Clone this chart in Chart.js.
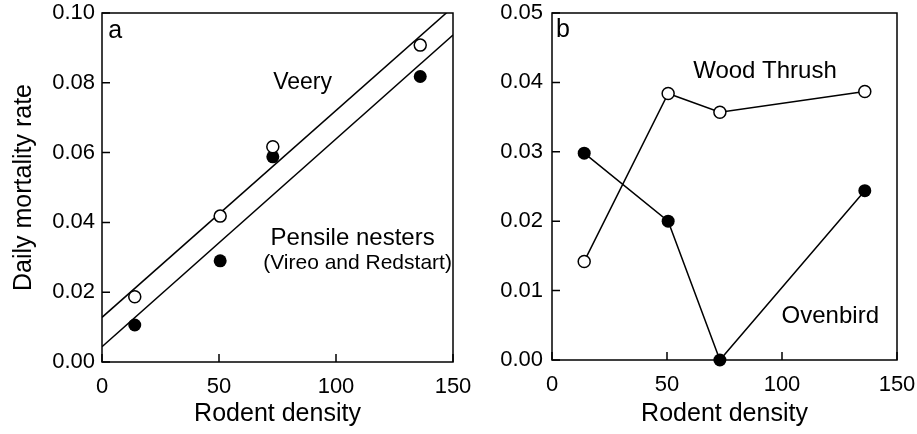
<!DOCTYPE html>
<html>
<head>
<meta charset="utf-8">
<script src="https://cdn.jsdelivr.net/npm/chart.js@4"></script>
<style>
  body { margin: 0; background: #fff; }
  #wrap { position: relative; width: 917px; height: 434px; overflow: hidden; }
  canvas { position: absolute; top: 0; }
  #chartA { left: 0; }
  #chartB { left: 460px; }
</style>
</head>
<body>
<div id="wrap">
  <canvas id="chartA" width="480" height="434"></canvas>
  <canvas id="chartB" width="457" height="434"></canvas>
</div>
<script>
// rodent density at each site
var density = [14, 50.5, 73, 136];

// panel a: Veery (open) and pensile nesters (filled)
var veery = [0.0187, 0.0418, 0.0617, 0.0908];
var pensile = [0.0106, 0.0290, 0.0588, 0.0818];
// fitted regression lines, end points
var veeryFitX = [0, 150];
var veeryFitY = [0.0128, 0.1017];
var pensileFitX = [0, 150];
var pensileFitY = [0.0044, 0.0937];

// panel b: Wood Thrush (open) and Ovenbird (filled)
var woodThrush = [0.0142, 0.0384, 0.0357, 0.0387];
var ovenbird = [0.0298, 0.0200, 0.0000, 0.0244];

var xTicks = [0, 50, 100, 150];

var FONT = "'Liberation Sans', Arial, Helvetica, sans-serif";

function pts(xs, ys) {
  return xs.map(function (x, i) { return { x: x, y: ys[i] }; });
}

// frame, inward tick marks and text labels
function framePlugin(notes) {
  return {
    id: "frame",
    afterDatasetsDraw: function (chart) {
      var c = chart.ctx, a = chart.chartArea;
      var xs = chart.scales.x, ys = chart.scales.y;
      c.save();
      c.strokeStyle = "#000";
      c.lineWidth = 1.5;
      c.strokeRect(a.left, a.top, a.right - a.left, a.bottom - a.top);
      c.beginPath();
      xs.ticks.forEach(function (t) {
        var px = xs.getPixelForValue(t.value);
        c.moveTo(px, a.bottom);
        c.lineTo(px, a.bottom - 8);
      });
      ys.ticks.forEach(function (t) {
        var py = ys.getPixelForValue(t.value);
        c.moveTo(a.left, py);
        c.lineTo(a.left + 8, py);
      });
      c.stroke();
      c.fillStyle = "#000";
      c.textAlign = "center";
      c.textBaseline = "middle";
      notes.forEach(function (n) {
        c.font = n.size + "px " + FONT;
        c.fillText(n.text, xs.getPixelForValue(n.x), ys.getPixelForValue(n.y));
      });
      c.restore();
    }
  };
}

function makeChart(id, datasets, yMax, yStep, yWidth, yPad, padRight, bottom, yTitle, notes) {
  return new Chart(document.getElementById(id), {
    type: "scatter",
    data: { datasets: datasets },
    options: {
      responsive: false,
      animation: false,
      layout: { padding: { left: 0, right: padRight, top: 13, bottom: 0 } },
      plugins: { legend: { display: false }, tooltip: { enabled: false } },
      scales: {
        x: {
          type: "linear",
          min: 0, max: 150,
          grid: { display: false, drawTicks: false },
          border: { display: false },
          afterBuildTicks: function (s) { s.ticks = xTicks.map(function (v) { return { value: v }; }); },
          ticks: { color: "#000", padding: 12, font: { family: FONT, size: 22 } },
          title: { display: true, text: "Rodent density", color: "#000",
                   font: { family: FONT, size: 25 }, padding: { top: 0, bottom: 5 } },
          afterFit: function (s) {
            s.height = 434 - bottom;
            s.paddingLeft = 0; s.paddingRight = 0;
          }
        },
        y: {
          type: "linear",
          min: 0, max: yMax,
          grid: { display: false, drawTicks: false },
          border: { display: false },
          ticks: { color: "#000", padding: yPad, stepSize: yStep,
                   font: { family: FONT, size: 22 },
                   callback: function (v) { return v.toFixed(2); } },
          title: { display: !!yTitle, text: yTitle || "", color: "#000",
                   font: { family: FONT, size: 25 }, padding: { top: 9, bottom: 0 } },
          afterFit: function (s) {
            s.width = yWidth;
            s.paddingTop = 0; s.paddingBottom = 0;
          }
        }
      }
    },
    plugins: [framePlugin(notes)]
  });
}

function openSet(ys, line) {
  return { data: pts(density, ys), showLine: line, borderColor: "#000", borderWidth: 1.5,
           pointRadius: 6, pointBorderWidth: 1.5, pointBackgroundColor: "#fff",
           pointBorderColor: "#000", clip: false, order: 0 };
}
function filledSet(ys, line) {
  return { data: pts(density, ys), showLine: line, borderColor: "#000", borderWidth: 1.5,
           pointRadius: 6.5, pointBorderWidth: 0, pointBackgroundColor: "#000",
           pointBorderColor: "#000", clip: false, order: 0 };
}
function fitSet(xs, ys) {
  return { data: pts(xs, ys), showLine: true, borderColor: "#000", borderWidth: 1.5,
           pointRadius: 0, order: 1 };
}

makeChart("chartA", [
  openSet(veery, false),
  filledSet(pensile, false),
  fitSet(veeryFitX, veeryFitY),
  fitSet(pensileFitX, pensileFitY)
], 0.1, 0.02, 102, 7, 27, 362, "Daily mortality rate", [
  { text: "a", x: 5.6, y: 0.0948, size: 25 },
  { text: "Veery", x: 85.7, y: 0.0801, size: 23 },
  { text: "Pensile nesters", x: 107.1, y: 0.0355, size: 24 },
  { text: "(Vireo and Redstart)", x: 109.2, y: 0.0282, size: 21 }
]);

makeChart("chartB", [
  openSet(woodThrush, true),
  filledSet(ovenbird, true)
], 0.05, 0.01, 92, 9, 20, 360, null, [
  { text: "b", x: 4.8, y: 0.0476, size: 25 },
  { text: "Wood Thrush", x: 92.6, y: 0.0416, size: 24 },
  { text: "Ovenbird", x: 121, y: 0.00627, size: 24 }
]);
</script>
</body>
</html>
